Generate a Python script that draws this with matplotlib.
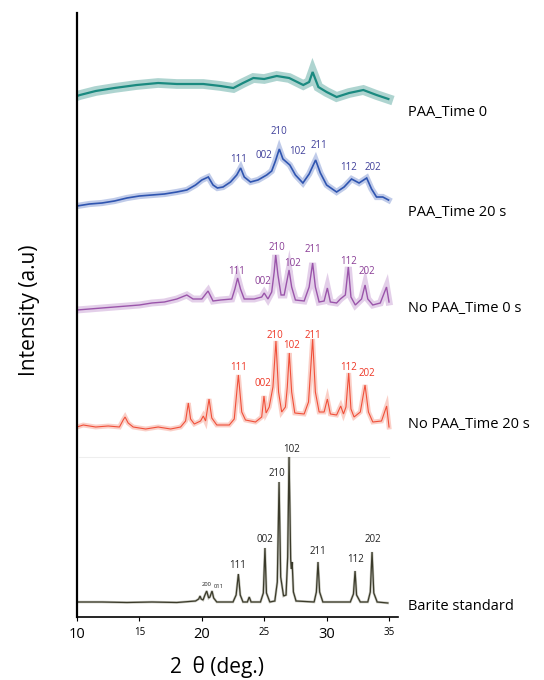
import matplotlib
matplotlib.use("Agg")
import matplotlib.pyplot as plt
import numpy as np

plt.rcParams['font.family'] = ['Open Sans', 'DejaVu Sans']

# 2theta / intensity readings for each pattern (intensity relative to its own trace)
barite_x = [10.0, 12, 14, 16, 18, 19.5, 19.75, 19.86, 19.95, 20.1, 20.25, 20.39, 20.55, 20.65, 20.82,
            20.95, 21.2, 22.5, 22.75, 22.93, 23.08, 23.3, 23.65, 23.8, 23.95, 24.7, 24.93, 25.06, 25.18,
            25.45, 25.85, 26.05, 26.19, 26.32, 26.55, 26.75, 26.88, 26.99, 27.06, 27.12, 27.17, 27.24,
            27.34, 27.55, 29.0, 29.18, 29.31, 29.44, 29.7, 31.9, 32.15, 32.28, 32.4, 32.7, 33.3, 33.5,
            33.64, 33.78, 34.05, 34.9]
barite_y = [15, 15, 14.5, 15, 14.5, 16, 18, 21, 18, 17, 22, 26, 19, 20, 26,
            19, 15, 15, 22, 43, 22, 15, 15, 20, 15, 15, 24, 69, 24,
            15, 16, 35, 135, 40, 21, 22, 60, 160, 108, 58, 48, 55,
            25, 16, 15, 25, 55, 25, 15, 15, 23, 46, 22, 15, 15, 25,
            65, 24, 15, 14]

nopaa20_x = [10.0, 10.5, 11.5, 12.5, 13.4, 13.7, 13.85, 14.1, 14.5, 15.5, 16.5, 17.5, 18.3, 18.7, 18.92,
             19.1, 19.4, 19.9, 20.12, 20.3, 20.58, 20.8, 21.2, 22.2, 22.6, 22.93, 23.2, 23.5, 24.3, 24.8,
             24.98, 25.15, 25.4, 25.7, 25.94, 26.15, 26.4, 26.7, 26.85, 27.01, 27.2, 27.45, 28.2, 28.55,
             28.88, 29.1, 29.4, 29.8, 30.06, 30.3, 30.8, 31.13, 31.35, 31.55, 31.77, 31.95, 32.2, 32.7,
             33.08, 33.35, 33.7, 34.4, 34.81, 35.0]
nopaa20_y = [15, 17, 15, 16, 15, 22, 25, 19, 15, 13, 15, 13, 15, 21, 39,
             23, 18, 21, 26, 21, 43, 24, 17, 17, 23, 67, 30, 22, 20, 25,
             46, 29, 35, 55, 101, 50, 30, 35, 55, 89, 50, 29, 28, 40,
             103, 50, 30, 30, 43, 28, 27, 36, 28, 35, 69, 33, 25, 30,
             57, 30, 20, 21, 36, 15]

nopaa0_x = [10.0, 11, 12, 13, 14, 15, 16, 17, 18, 18.8, 19.3, 20.0, 20.5, 20.9, 21.5, 22.4, 22.65, 22.87,
            23.1, 23.4, 24.2, 24.8, 25.0, 25.3, 25.6, 25.8, 25.92, 26.1, 26.35, 26.6, 26.85, 26.99, 27.2,
            27.5, 28.2, 28.6, 28.88, 29.1, 29.4, 29.8, 30.06, 30.3, 30.8, 31.1, 31.5, 31.74, 31.95, 32.3,
            32.8, 33.08, 33.3, 33.7, 34.3, 34.8, 35.0]
nopaa0_y = [17, 18, 19, 20, 21, 22, 24, 25, 28, 32, 28, 28, 36, 26, 27, 28, 38, 49,
            38, 28, 28, 30, 34, 28, 35, 55, 72, 52, 32, 32, 48, 57, 40,
            27, 26, 40, 64, 40, 25, 26, 39, 25, 24, 28, 32, 60, 30, 22,
            28, 42, 28, 22, 24, 40, 25]

paa20_x = [10.0, 11, 12, 13, 14, 15, 16, 17, 18, 18.8, 19.5, 20.0, 20.52, 20.9, 21.25, 21.7, 22.3, 22.8,
           23.11, 23.4, 23.9, 24.5, 25.2, 25.6, 25.9, 26.21, 26.5, 27.05, 27.5, 28.1, 28.6, 29.12, 29.5,
           30.0, 30.8, 31.4, 32.0, 32.6, 33.21, 33.6, 34.0, 34.5, 34.96]
paa20_y = [16, 18, 19, 21, 24, 26, 27, 28, 30, 32, 37, 42, 45, 37, 34, 35, 40, 47,
           54, 45, 40, 42, 47, 51, 61, 73, 63, 57, 47, 39, 48, 62, 49,
           37, 30, 35, 43, 39, 44, 33, 25, 25, 22]

paa0_x = [10.0, 10.24, 11.5, 13, 14.78, 16.5, 18, 20.12, 21.5, 22.53, 23.3, 24.13, 25, 26.0, 27,
          28.13, 28.6, 28.88, 29.34, 30.0, 30.8, 31.8, 32.94, 34, 34.95]
paa0_y = [16, 17, 21, 24, 27, 29, 28, 28, 26, 24, 29, 34, 33, 36, 34,
          27, 30, 40, 25, 20, 15, 19, 22, 17, 13]

sample_names = ["Barite standard", "No PAA_Time 20 s", "No PAA_Time 0 s", "PAA_Time 20 s", "PAA_Time 0"]

# peak index labels: (hkl, 2theta, intensity) relative to each trace
barite_hkl = [("111", 22.9, 52), ("002", 25.06, 77), ("210", 26.03, 144), ("102", 27.2, 168),
              ("211", 29.29, 65), ("112", 32.28, 58), ("202", 33.72, 78)]
barite_small = [("200", 20.39, 33), ("011", 21.38, 31)]
nopaa20_hkl = [("111", 22.92, 75), ("002", 24.88, 58), ("210", 25.87, 107), ("102", 27.2, 96),
               ("211", 28.93, 106), ("112", 31.77, 75), ("202", 33.24, 68)]
nopaa0_hkl = [("111", 22.8, 55), ("002", 24.88, 46), ("210", 26.0, 80), ("102", 27.25, 64),
              ("211", 28.89, 77), ("112", 31.74, 66), ("202", 33.21, 55)]
paa20_hkl = [("111", 22.92, 62), ("002", 24.98, 67), ("210", 26.21, 90), ("102", 27.65, 70),
             ("211", 29.39, 77), ("112", 31.74, 54), ("202", 33.74, 54)]

# stacking offsets and looks
offsets = [0, 175, 290, 395, 505]
name_y = [10, 18, 19, 10, 0]
core_col = ['#3b3b2b', '#f0503a', '#9a55aa', '#2f55b0', '#1a8a80']
halo_col = ['#8a8a78', '#f7a090', '#c9a0d4', '#8299d4', '#5eaaa2']
label_col = ['#222222', '#ee3524', '#8a3d96', '#3f3f9a', None]
core_lw = [0.9, 0.8, 1.0, 1.2, 1.6]
halo_lw = [1.8, 3.5, 5.0, 4.5, 7.0]

traces = [(barite_x, barite_y), (nopaa20_x, nopaa20_y), (nopaa0_x, nopaa0_y),
          (paa20_x, paa20_y), (paa0_x, paa0_y)]
hkls = [barite_hkl, nopaa20_hkl, nopaa0_hkl, paa20_hkl, None]

fig = plt.figure(figsize=(5.44, 6.8), dpi=100)
ax = fig.add_axes([77 / 544, 63 / 680, 321 / 544, 604 / 680])

# faint frame line of the standard pattern
ax.plot([10.2, 35.0], [160, 160], color='#eeeeee', lw=0.8)

for i, (xs, ys) in enumerate(traces):
    y = np.array(ys) + offsets[i]
    ax.plot(xs, y, color=halo_col[i], lw=halo_lw[i], alpha=0.5, solid_joinstyle='miter')
    ax.plot(xs, y, color=core_col[i], lw=core_lw[i], solid_joinstyle='miter')
    ax.text(36.52, offsets[i] + name_y[i], sample_names[i],
            fontsize=10.5, ha='left', va='center', clip_on=False)
    if hkls[i] is not None:
        for lab, px, py in hkls[i]:
            ax.text(px, py + offsets[i], lab, color=label_col[i], fontsize=7,
                    ha='center', va='center')

for lab, px, py in barite_small:
    ax.text(px, py, lab, color='#222222', fontsize=4.2, ha='center', va='center')

ax.set_xlim(10, 35.72)
ax.set_ylim(0, 604)
ax.set_yticks([])
ax.set_xticks([10, 15, 20, 25, 30, 35])
ax.set_xticklabels(["10", "15", "20", "25", "30", "35"])
for k, t in enumerate(ax.get_xticklabels()):
    t.set_fontsize(10.5 if k % 2 == 0 else 7)
ax.tick_params(axis='x', direction='out', length=3, width=0.8, pad=4)
ax.spines['top'].set_visible(False)
ax.spines['right'].set_visible(False)
ax.spines['left'].set_linewidth(1.6)
ax.spines['bottom'].set_linewidth(1.2)

fig.text(30 / 544, 1 - 310 / 680, "Intensity (a.u)", rotation=90, fontsize=15,
         ha='center', va='center')
fig.text(217 / 544, 1 - 667 / 680, "2  θ (deg.)", fontsize=15, ha='center', va='center')

fig.savefig("out.png", dpi=100)
